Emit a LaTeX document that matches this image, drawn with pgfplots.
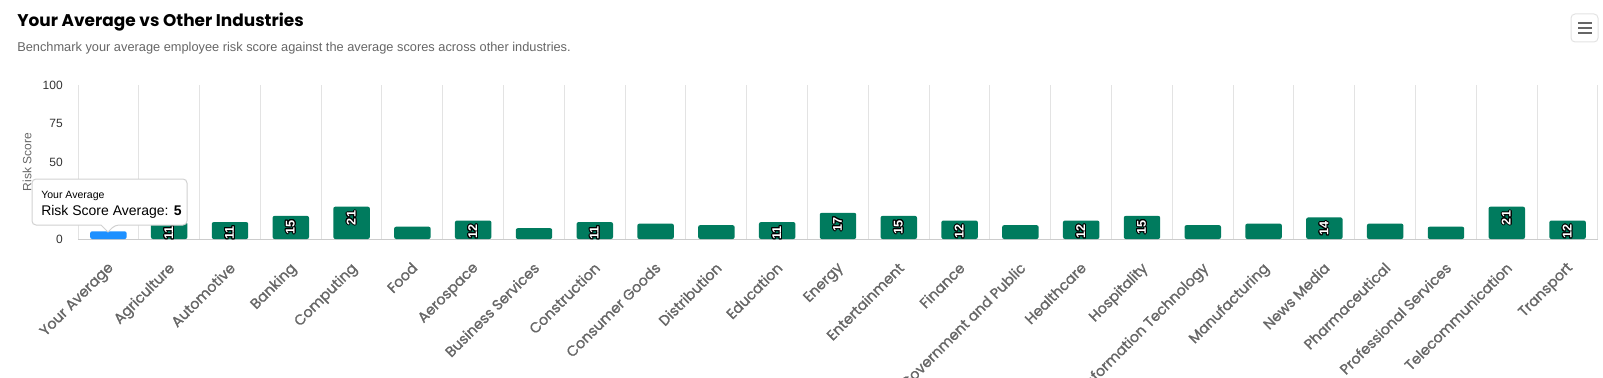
\documentclass[border=0pt]{standalone}
\usepackage{fontspec}
\setmainfont{Liberation Sans}
\newfontfamily\poppins{Poppins}
\newfontfamily\poppinsm[FakeBold=1.2]{Poppins}
\usepackage{pgfplots}
\usepackage{pgfplotstable}
\pgfplotsset{compat=1.18}
\usepackage{contour}
\contourlength{0.75pt}
\definecolor{barg}{HTML}{007B5E}
\definecolor{barb}{HTML}{1E90FF}
\definecolor{gridc}{HTML}{E3E3E3}
\definecolor{axisc}{HTML}{CCCCCC}
\definecolor{txtg}{HTML}{666666}
\definecolor{txtd}{HTML}{333333}

\pgfplotstableread{
x y
0 5
}\youravg
\pgfplotstableread{
x y
1 11
2 11
3 15
4 21
6 12
8 11
11 11
12 17
13 15
14 12
16 12
17 15
20 14
23 21
24 12
}\labeled
\pgfplotstableread{
x y
5 8
7 7
9 10
10 9
15 9
18 9
19 10
21 10
22 8
}\unlabeled

\begin{document}
\begin{tikzpicture}
\begin{axis}[
  at={(58.5pt,-179.25pt)}, anchor=south west,
  scale only axis, width=1140pt, height=115.5pt,
  xmin=-0.5, xmax=24.5, ymin=0, ymax=100,
  ybar, bar width=0.6,
  axis x line*=bottom, axis y line*=left,
  x axis line style={draw=axisc, line width=0.75pt},
  y axis line style={draw=none},
  xtick={0,...,24},
  xticklabels={Your Average, Agriculture, Automotive, Banking, Computing, Food, Aerospace, Business Services, Construction, Consumer Goods, Distribution, Education, Energy, Entertainment, Finance, Government and Public, Healthcare, Hospitality, Information Technology, Manufacturing, News Media, Pharmaceutical, Professional Services, Telecommunication, Transport},
  minor xtick={-0.5,0.5,...,24.5},
  xminorgrids, minor grid style={draw=gridc, line width=0.75pt},
  major tick length=0pt, minor tick length=0pt,
  ytick={0,25,50,75,100},
  /pgf/number format/assume math mode=true,
  yticklabel style={font=\fontsize{9}{11}\selectfont, text=txtd, inner sep=0pt, anchor=east, xshift=-11.25pt},
  xticklabel style={font=\poppinsm\fontsize{10.8}{12}\selectfont, text=txtg, inner sep=0pt, xshift=-1.2pt, yshift=-16.5pt, rotate=45, anchor=north east},
  ylabel={Risk Score},
  every axis y label/.style={font=\fontsize{9}{11}\selectfont, text=txtg, at={(axis description cs:0,0.5)}, anchor=center, xshift=-38.25pt, rotate=90},
  clip=true,
]
\addplot[fill=barb, draw=none, bar shift=0pt, rounded corners=1.5pt] table[x=x,y=y]{\youravg};
\addplot[fill=barg, draw=none, bar shift=0pt, rounded corners=1.5pt] table[x=x,y=y]{\unlabeled};
\addplot[fill=barg, draw=none, bar shift=0pt, rounded corners=1.5pt,
  nodes near coords={\contour{black}{\pgfmathprintnumber{\pgfplotspointmeta}}},
  every node near coord/.append style={font=\bfseries\fontsize{9.5}{10}\selectfont, text=white, inner sep=0pt, anchor=east, rotate=90, xshift=-3pt},
] table[x=x,y=y]{\labeled};
\end{axis}
\begin{scope}[x=0.75pt, y=-0.75pt]
  % title and subtitle
  \node[anchor=base west, inner sep=0pt, font=\poppins\bfseries\fontsize{12.7}{15}\selectfont] at (17,27) {Your Average vs Other Industries};
  \node[anchor=base west, inner sep=0pt, font=\fontsize{9.6}{12}\selectfont, text=txtg] at (17,51.7) {Benchmark your average employee risk score against the average scores across other industries.};
  % menu button
  \draw[draw=gridc, fill=white, rounded corners=3pt, line width=0.75pt] (1571,14) rectangle (1598,42);
  \draw[txtg, line width=0.9pt] (1578,23) -- (1592,23) (1578,28) -- (1592,28) (1578,33) -- (1592,33);
  % tooltip
  \draw[draw=black!18, fill=white, line width=0.75pt, rounded corners=3pt] (32,179) -- (187,179) -- (187,225) -- (115,225) [sharp corners] -- (108,232) -- (101,225) [rounded corners=3pt] -- (32,225) -- cycle;
  \node[anchor=base west, inner sep=0pt, font=\fontsize{7.9}{9}\selectfont] at (41,198) {Your Average};
  \node[anchor=base west, inner sep=0pt, font=\fontsize{10.5}{12}\selectfont] at (41,215) {Risk Score Average: \textbf{5}};
  \pgfresetboundingbox
  \path (0,0) rectangle (1603,378);
\end{scope}
\end{tikzpicture}
\end{document}
